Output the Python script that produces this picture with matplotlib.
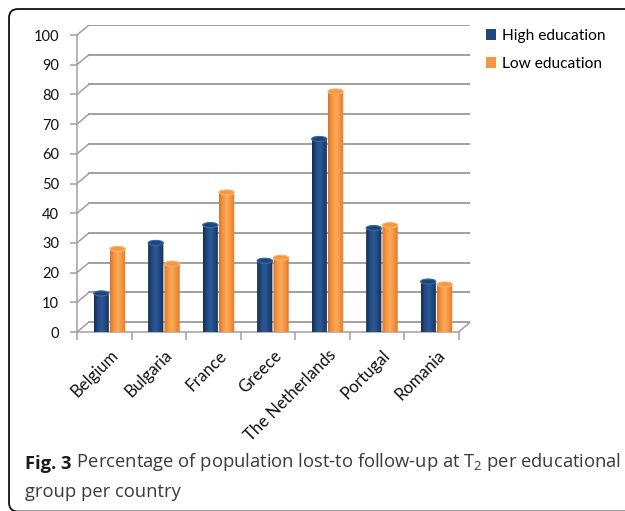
"""Lost-to-follow-up at T2 per educational group per country (pseudo-3D cylinders)."""
import matplotlib
matplotlib.use("Agg")
import matplotlib.pyplot as plt
import numpy as np
from matplotlib.colors import LinearSegmentedColormap
from matplotlib.patches import Ellipse, FancyBboxPatch, Patch, PathPatch
from matplotlib.path import Path

countries = ["Belgium", "Bulgaria", "France", "Greece", "The Netherlands",
             "Portugal", "Romania"]
high_edu = [13, 30, 36, 24, 65, 35, 17]
low_edu = [28, 23, 47, 25, 81, 36, 16]
y_ticks = list(range(0, 101, 10))

plt.rcParams.update({
  "font.family": "Lato",
  "mathtext.fontset": "custom",
  "mathtext.rm": "Open Sans",
})

BLUE = "#1f497d"
ORANGE = "#f79646"
GRID = "#a0a0a0"
blue_cmap = LinearSegmentedColormap.from_list(
  "cyl_blue", ["#132d52", "#234b82", "#2c5a98", "#214677", "#15305a"])
orange_cmap = LinearSegmentedColormap.from_list(
  "cyl_orange", ["#d9742a", "#f5963f", "#fdab5c", "#f39340", "#dc7a30"])

W, H = 625, 511
fig = plt.figure(figsize=(W / 100, H / 100), dpi=100)

# axes placement in pixels: front axis at x=77, baseline at y=332
PX_CAT = 54.5
PX_UNIT = 2.97
DX = 0.22          # depth offset in category units
DY = 3.37          # depth offset in value units
n = len(countries)
x_max = n + DX
y_max = 100 + DY
ax = fig.add_axes([77 / W, (H - 332) / H, x_max * PX_CAT / W, y_max * PX_UNIT / H])

# back wall gridlines with diagonal connectors
for v in y_ticks:
  ax.plot([0, DX], [v, v + DY], color=GRID, lw=1.1, zorder=1)
  ax.plot([DX, n + DX], [v + DY, v + DY], color=GRID, lw=1.4, zorder=1)
ax.plot([n, n + DX], [0, DY], color=GRID, lw=1.1, zorder=1)

# spines / ticks
for side in ("top", "right"):
  ax.spines[side].set_visible(False)
ax.spines["left"].set_bounds(0, 100)
ax.spines["bottom"].set_bounds(0, n)
for side in ("left", "bottom"):
  ax.spines[side].set_color(GRID)
  ax.spines[side].set_linewidth(1.1)
ax.set_yticks(y_ticks)
ax.tick_params(axis="y", length=5, width=1.1, color=GRID, pad=8,
               labelsize=10.5, labelcolor="#111111")
ax.set_xticks(np.arange(n + 1))
ax.set_xticklabels([])
ax.set_xticks(np.arange(n) + 0.6, minor=True)
ax.set_xticklabels(countries, minor=True, rotation=45, ha="right",
                   rotation_mode="anchor", fontsize=12, color="#111111")
ax.tick_params(axis="x", which="major", length=6, width=1.1, color=GRID)
ax.tick_params(axis="x", which="minor", length=0, pad=11)

# cylinders
BW = 0.28
EH = 0.85          # half-height of the elliptical caps
ts = np.linspace(np.pi, 2 * np.pi, 30)


def cylinder(xc, val, cmap, top_col, edge_col):
  x0, x1 = xc - BW / 2, xc + BW / 2
  bx = xc + BW / 2 * np.cos(ts)
  by = EH * np.sin(ts)
  verts = [(x0, val)] + list(zip(bx, by)) + [(x1, val), (x0, val)]
  body = PathPatch(Path(verts), facecolor="none", edgecolor="none", zorder=3)
  ax.add_patch(body)
  grad = np.linspace(0, 1, 64).reshape(1, -1)
  im = ax.imshow(grad, cmap=cmap, extent=[x0, x1, -EH, val], aspect="auto",
                 interpolation="bilinear", zorder=3)
  im.set_clip_path(body)
  ax.add_patch(Ellipse((xc, val), BW, 2 * EH, facecolor=top_col,
                       edgecolor=edge_col, lw=0.8, zorder=4))


for i in range(n):
  cylinder(i + 0.445, high_edu[i], blue_cmap, "#1f4577", "#3a6aa8")
  cylinder(i + 0.745, low_edu[i], orange_cmap, "#f39a48", "#fbb36a")

ax.set_xlim(0, x_max)
ax.set_ylim(0, y_max)

# legend
handles = [Patch(facecolor=BLUE, label="High education"),
           Patch(facecolor=ORANGE, label="Low education")]
fig.legend(handles=handles, loc="upper left", bbox_to_anchor=(486 / W, 1 - 29 / H),
           frameon=False, fontsize=11.2, handlelength=0.65, handleheight=0.65,
           handletextpad=0.4, labelspacing=0.9, borderpad=0, borderaxespad=0)

# caption: bold figure label followed by regular text
cap_kw = dict(fontsize=13.2, family="Open Sans", color="#3a3a3a")
fig_lbl = fig.text(25 / W, 1 - 469 / H, "Fig. 3", fontweight="bold",
                   va="baseline", **{**cap_kw, "color": "#1a1a1a"})
fig.add_artist(plt.Annotation(
  " Percentage of population lost-to follow-up at T$_2$ per educational",
  xy=(1, 0), xycoords=fig_lbl, va="bottom", ha="left", **cap_kw))
fig.text(25 / W, 1 - 497 / H, "group per country", va="baseline", **cap_kw)

# rounded outer frame
frame = FancyBboxPatch((0.09, -0.005), 6.6, 5.025, transform=fig.dpi_scale_trans,
                       boxstyle="round,pad=0,rounding_size=0.09",
                       facecolor="none", edgecolor="#111111", lw=1.3)
fig.add_artist(frame)

fig.savefig("out.png", dpi=100)
